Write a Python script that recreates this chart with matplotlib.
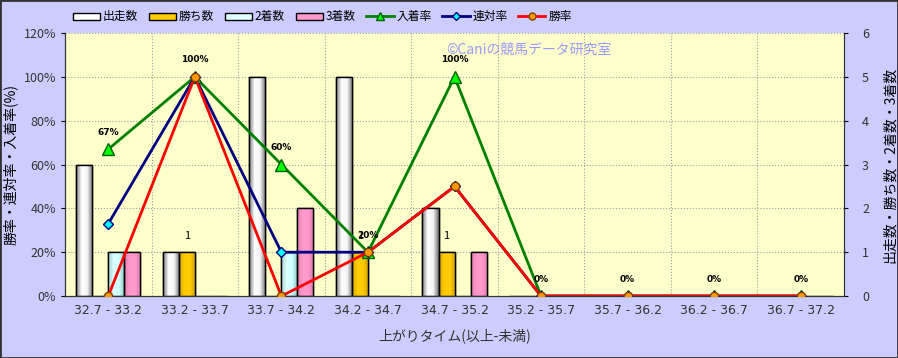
import numpy as np
import matplotlib
matplotlib.use("Agg")
import matplotlib.pyplot as plt
from matplotlib.colors import LinearSegmentedColormap
from matplotlib.patches import Patch, Rectangle
from matplotlib.lines import Line2D

plt.rcParams['font.family'] = ['Noto Sans CJK JP', 'DejaVu Sans']

# =========================
# data
# =========================
categories = ["32.7 - 33.2", "33.2 - 33.7", "33.7 - 34.2", "34.2 - 34.7", "34.7 - 35.2",
              "35.2 - 35.7", "35.7 - 36.2", "36.2 - 36.7", "36.7 - 37.2"]
runs   = [3, 1, 5, 5, 2, 0, 0, 0, 0]   # 出走数
wins   = [0, 1, 0, 1, 1, 0, 0, 0, 0]   # 勝ち数
second = [1, 0, 1, 0, 0, 0, 0, 0, 0]   # 2着数
third  = [1, 0, 2, 0, 1, 0, 0, 0, 0]   # 3着数

place_rate = [67, 100, 60, 20, 100, 0, 0, 0, 0]   # 入着率
quin_rate  = [33, 100, 20, 20, 50, 0, 0, 0, 0]    # 連対率
win_rate   = [0, 100, 0, 20, 50, 0, 0, 0, 0]      # 勝率

BG = "#CCCCFF"
PLOT_BG = "#FFFFCC"

fig = plt.figure(figsize=(8.98, 3.58), dpi=100, facecolor=BG)
ax = fig.add_axes([0.0724, 0.173, 0.8675, 0.735])
ax2 = ax.twinx()

# bars on primary axes (counts, shown on right), lines on twin (percent, shown on left)
ax.set_facecolor(PLOT_BG)
ax2.set_facecolor("none")

x = np.arange(len(categories))
w = 0.185
offsets = np.array([-1.5, -0.5, 0.5, 1.5]) * w

bar_specs = [
    (runs,   "出走数", ["#7a7a7a", "#ffffff", "#f4f4f4", "#6e6e6e"]),
    (wins,   "勝ち数", ["#d9a800", "#ffcc00", "#ffcc00", "#c79a00"]),
    (second, "2着数", ["#9fcfcf", "#ddffff", "#ccffff", "#90c0c0"]),
    (third,  "3着数", ["#e07fb0", "#ff99cc", "#ff99cc", "#d779aa"]),
]

grad = np.linspace(0, 1, 64).reshape(1, -1)
for (vals, lab, cols), off in zip(bar_specs, offsets):
    cmap = LinearSegmentedColormap.from_list(lab, cols)
    bc = ax.bar(x + off, vals, width=w, color=cols[1], edgecolor="black",
                linewidth=1.0, zorder=2)
    for rect, v in zip(bc, vals):
        if v <= 0:
            continue
        im = ax.imshow(grad, extent=[rect.get_x(), rect.get_x() + rect.get_width(), 0, v],
                       aspect="auto", cmap=cmap, zorder=2.1)
        im.set_clip_path(rect)
        ax.add_patch(Rectangle((rect.get_x(), 0), rect.get_width(), v, fill=False,
                               edgecolor="black", linewidth=1.0, zorder=2.2))

# "1" labels on 勝ち数 bars
for xi, v in zip(x + offsets[1], wins):
    if v > 0:
        ax.text(xi, v + 0.25, str(v), ha="center", va="bottom", fontsize=8, zorder=3)

ax.set_xlim(-0.5, len(categories) - 0.5)
ax.set_ylim(0, 6)
ax.set_yticks(range(0, 7))

# lines
ax2.plot(x, place_rate, color="#008000", lw=2, marker="^", ms=8,
         mfc="#00ff00", mec="#006000", zorder=4)
ax2.plot(x, quin_rate, color="#000080", lw=2, marker="D", ms=5,
         mfc="#00ffff", mec="#000080", zorder=5)
ax2.plot(x, win_rate, color="#ff0000", lw=2, marker="o", ms=6,
         mfc="#ff9900", mec="#804000", zorder=6)
for xi, v in zip(x, place_rate):
    ax2.annotate(f"{v}%", (xi, v), xytext=(0, 9), textcoords="offset points",
                 ha="center", va="bottom", fontsize=6.5, fontweight="bold",
                 family="DejaVu Sans", zorder=7)
ax2.set_ylim(0, 120)
ax2.set_yticks(range(0, 121, 20))
ax2.set_yticklabels([f"{t}%" for t in range(0, 121, 20)])

# swap sides: percent on left, counts on right
ax.yaxis.tick_right()
ax.yaxis.set_label_position("right")
ax2.yaxis.tick_left()
ax2.yaxis.set_label_position("left")

# grid
ax.set_xticks(x)
ax.set_xticklabels(categories, fontsize=9, color="#333333", family="DejaVu Sans")
ax.set_xticks(np.arange(0.5, len(categories) - 0.5, 1), minor=True)
ax.grid(True, which="minor", axis="x", color="#a0a0a0", ls=":", lw=0.8, zorder=0)
ax.grid(True, which="major", axis="y", color="#a0a0a0", ls=":", lw=0.8, zorder=0)
ax.tick_params(axis="x", which="both", length=0, pad=6)
ax.tick_params(axis="y", length=3, labelsize=9, labelcolor="#333333", pad=10)
ax2.tick_params(axis="y", length=3, labelsize=9, labelcolor="#333333")

for a in (ax, ax2):
    a.spines["top"].set_visible(False)
    for s in ("left", "right", "bottom"):
        a.spines[s].set_color("#333333")

ax2.set_ylabel("勝率・連対率・入着率(%)", fontsize=10, labelpad=4)
ax.set_ylabel("出走数・勝ち数・2着数・3着数", fontsize=10, labelpad=10)
ax.set_xlabel("上がりタイム(以上-未満)", fontsize=10, labelpad=8, color="#333333")

# watermark
ax.text(0.49, 0.935, "©Caniの競馬データ研究室", transform=ax.transAxes, fontsize=10,
        color="#9999ff", ha="left", va="center", zorder=8)

# legend
handles = [Patch(facecolor=c[1], edgecolor="black", label=l) for _, l, c in bar_specs]
handles += [
    Line2D([], [], color="#008000", lw=2, marker="^", ms=6, mfc="#00ff00", mec="#006000", label="入着率"),
    Line2D([], [], color="#000080", lw=2, marker="D", ms=4, mfc="#00ffff", mec="#000080", label="連対率"),
    Line2D([], [], color="#ff0000", lw=2, marker="o", ms=5, mfc="#ff9900", mec="#804000", label="勝率"),
]
fig.legend(handles=handles, loc="center", bbox_to_anchor=(0.359, 0.953), ncol=7,
           frameon=False, fontsize=8.5, handlelength=2.3, handleheight=0.55,
           columnspacing=0.9, handletextpad=0.25)

fig.add_artist(Rectangle((0, 0), 1, 1, transform=fig.transFigure, fill=False,
                         edgecolor="#333333", linewidth=2))

fig.savefig("out.png", dpi=100, facecolor=BG)
